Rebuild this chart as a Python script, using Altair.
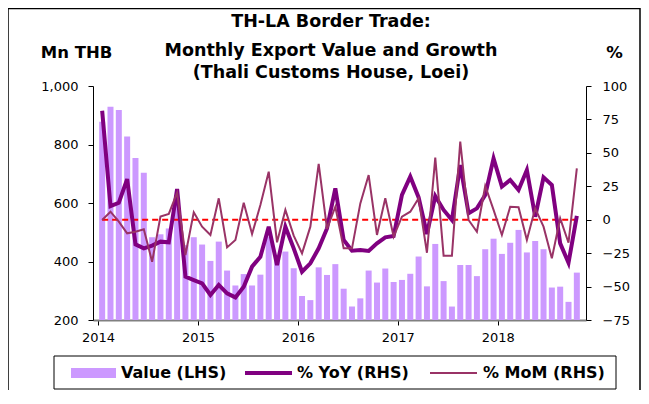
import altair as alt
import pandas as pd

years = ["2014", "2015", "2016", "2017", "2018"]
value = [878, 929, 918, 827, 754, 703, 483, 493, 513, 618, 456, 483,
         458, 402, 468, 369, 318, 357, 318, 355, 485, 410, 434, 377,
         282, 268, 380, 354, 391, 307, 246, 274, 369, 328, 376, 330,
         337, 358, 417, 315, 460, 333, 246, 388, 388, 350, 442, 478,
         426, 464, 508, 431, 470, 442, 311, 314, 262, 362]
yoy = [81.5, 10.2, 12.7, 30.4, -18.4, -21.4, -19.4, -16.4, -16.9, 23.0, -42.6, -45.1,
       -47.6, -56.3, -48.8, -55.1, -58.1, -50.1, -35.1, -27.7, -5.2, -33.9, -5.2, -21.4,
       -38.9, -32.6, -21.4, -6.5, 23.5, -15.2, -23.2, -22.7, -23.4, -17.7, -13.2, -12.2,
       18.5, 32.2, 16.7, -10.7, 17.7, 7.3, -0.2, 40.9, 4.8, 8.5, 18.5, 45.9,
       24.7, 29.7, 22.2, 37.2, 2.2, 31.7, 26.0, -17.7, -32.2, 2.8]
mom = [-0.2, 6.0, -1.5, -10.2, -9.0, -7.2, -31.4, 2.3, 4.3, 20.2, -26.4, 5.5,
       -5.2, -11.4, 16.0, -20.7, -15.2, 12.7, -10.7, 11.0, 35.9, -16.9, 7.3, -11.9,
       -25.2, -5.2, 41.7, -6.8, 9.7, -21.4, -21.4, 12.2, 33.4, -11.4, 16.0, -12.7,
       2.3, 6.0, 16.0, -24.7, 46.4, -26.9, -26.9, 58.4, -0.2, -9.0, 25.2, 7.3,
       -11.4, 9.7, 9.3, -15.2, 8.5, -5.2, -28.9, 1.0, -17.2, 38.4]
left_ticks = [200, 400, 600, 800, 1000]
right_ticks = [-75, -50, -25, 0, 25, 50, 75, 100]
legend_labels = ["Value (LHS)", "% YoY (RHS)", "% MoM (RHS)"]
title_lines = ["TH-LA Border Trade:", "Monthly Export Value and Growth", "(Thali Customs House, Loei)"]

n = len(value)
df = pd.DataFrame({
    "m": [i + 0.5 for i in range(n)],
    "value": value,
    "yoy": yoy,
    "mom": mom,
    "zero": [0] * n,
})
one = pd.DataFrame({"k": [0]})

FONT = "DejaVu Sans"
BAR = "#CC99FF"
YOY = "#800080"
MOM = "#993366"

xenc = alt.X(
    "m:Q",
    scale=alt.Scale(domain=[0, n], nice=False, zero=False),
    axis=alt.Axis(
        values=[0, 12, 24, 36, 48],
        labelExpr=f"{years}[datum.value / 12]",
        title=None, grid=False, domainColor="#808080", domainWidth=2,
        tickColor="#000000", tickSize=5, labelFontSize=13, labelPadding=6,
        labelColor="#000000", labelFont=FONT,
    ),
)

bars = alt.Chart(df).mark_bar(size=6, color=BAR).encode(
    x=xenc,
    y=alt.Y(
        "value:Q",
        scale=alt.Scale(domain=[200, 1000], nice=False, zero=False),
        axis=alt.Axis(
            values=left_ticks, format=",.0f", title="Mn THB", grid=False,
            titleAngle=0, titleX=-17, titleY=-34, titleAlign="center",
            titleBaseline="middle", titleFontSize=16.5, titleFontWeight="bold",
            titleFont=FONT, titleColor="#000000",
            labelFontSize=13, labelFont=FONT, labelColor="#000000",
            domainColor="#000000", tickColor="#000000", tickSize=5, labelPadding=10,
        ),
    ),
    y2=alt.datum(200),
)

right_axis = alt.Axis(
    orient="right", values=right_ticks, title="%", grid=False,
    titleAngle=0, titleX=28, titleY=-34, titleAlign="center",
    titleBaseline="middle", titleFontSize=16.5, titleFontWeight="bold",
    titleFont=FONT, titleColor="#000000",
    labelFontSize=13, labelFont=FONT, labelColor="#000000",
    domainColor="#000000", tickColor="#000000", tickSize=5, labelPadding=11,
)
rscale = alt.Scale(domain=[-75, 100], nice=False, zero=False)

zero_line = alt.Chart(df).mark_line(color="#FF0000", strokeWidth=2, strokeDash=[6, 4]).encode(
    x=xenc, y=alt.Y("zero:Q", scale=rscale, axis=right_axis)
)
yoy_line = alt.Chart(df).mark_line(color=YOY, strokeWidth=4).encode(
    x=xenc, y=alt.Y("yoy:Q", scale=rscale, axis=right_axis)
)
mom_line = alt.Chart(df).mark_line(color=MOM, strokeWidth=2).encode(
    x=xenc, y=alt.Y("mom:Q", scale=rscale, axis=right_axis)
)
lines = alt.layer(zero_line, yoy_line, mom_line)

# decorations: outer frame, title and legend (pixel positions relative to plot area)
frame = alt.Chart(one).mark_rect(fillOpacity=0, stroke="#000000", strokeWidth=1.5).encode(
    x=alt.value(-85), x2=alt.value(547), y=alt.value(-77.5), y2=alt.value(330)
)
title_marks = []
for line, py in zip(title_lines, [-64, -35, -13]):
    title_marks.append(
        alt.Chart(one).mark_text(
            align="center", baseline="middle", fontSize=17.5, fontWeight="bold",
            font=FONT, color="#000000",
        ).encode(x=alt.value(238), y=alt.value(py), text=alt.value(line))
    )
leg_box = alt.Chart(one).mark_rect(fillOpacity=0, stroke="#000000", strokeWidth=1).encode(
    x=alt.value(-39), x2=alt.value(523), y=alt.value(270), y2=alt.value(303)
)
leg_bar = alt.Chart(one).mark_rect(color=BAR).encode(
    x=alt.value(-22), x2=alt.value(23), y=alt.value(282), y2=alt.value(292)
)
leg_yoy = alt.Chart(one).mark_rule(color=YOY, strokeWidth=4).encode(
    x=alt.value(152), x2=alt.value(199), y=alt.value(287)
)
leg_mom = alt.Chart(one).mark_rule(color=MOM, strokeWidth=2).encode(
    x=alt.value(337), x2=alt.value(384), y=alt.value(287)
)
leg_texts = []
for lab, px in zip(legend_labels, [28, 204, 390]):
    leg_texts.append(
        alt.Chart(one).mark_text(
            align="left", baseline="middle", fontSize=16, fontWeight="bold",
            font=FONT, color="#000000",
        ).encode(x=alt.value(px), y=alt.value(287), text=alt.value(lab))
    )

chart = alt.layer(
    bars, lines, frame, *title_marks, leg_box, leg_bar, leg_yoy, leg_mom, *leg_texts
).resolve_scale(y="independent").properties(
    width=493,
    height=234,
    autosize=alt.AutoSizeParams(type="none"),
    padding={"left": 85, "top": 78, "right": 55, "bottom": 70},
).configure_view(stroke=None)

chart.save("out.html", embed_options={"renderer": "svg", "actions": False})
